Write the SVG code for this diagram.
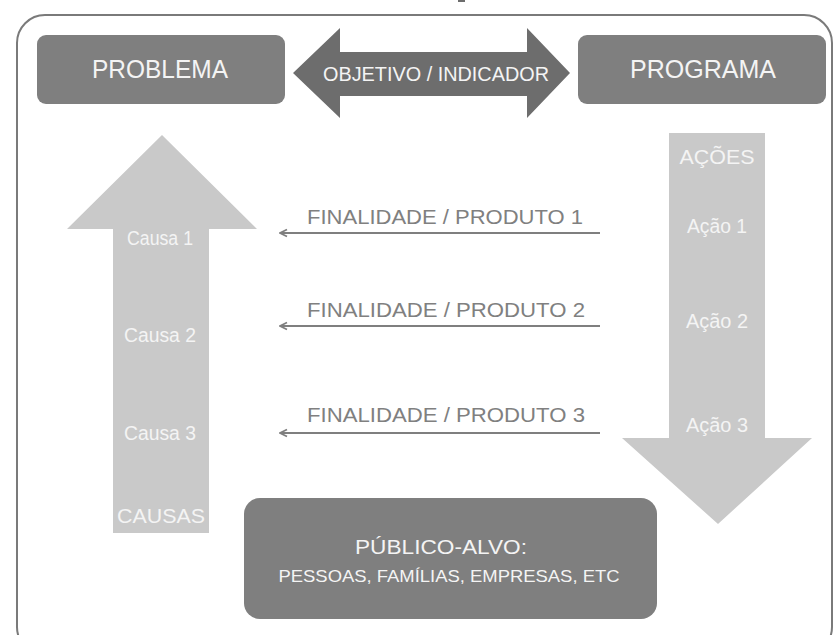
<svg xmlns="http://www.w3.org/2000/svg" width="835" height="635" viewBox="0 0 835 635">
<defs>
<style>
.box{fill:#7f7f7f}
.dark{fill:#6d6d6d}
.light{fill:#c9c9c9}
.wt{fill:#f4f4f4;font-family:"Liberation Sans",Arial,sans-serif;text-anchor:middle}
.lbl{fill:#808080;font-family:"Liberation Sans",Arial,sans-serif;font-size:20.5px;text-anchor:middle}
.conn{stroke:#7f7f7f;stroke-width:1.8;fill:none}
</style>
<marker id="ah" viewBox="0 0 10 10" refX="9" refY="5" markerWidth="10" markerHeight="10" markerUnits="userSpaceOnUse" orient="auto">
<path d="M2,1.5 L9,5 L2,8.5" fill="none" stroke="#7f7f7f" stroke-width="1.8"/>
</marker>
</defs>
<rect x="0" y="0" width="835" height="635" fill="#ffffff"/>
<rect x="458" y="0" width="7" height="2" fill="#6d6d6d"/>
<rect id="frame" x="17" y="15" width="815" height="640" rx="28" fill="none" stroke="#7a7a7a" stroke-width="2"/>

<g id="problema">
<rect class="box" x="37" y="35" width="248" height="69" rx="9"/>
<text class="wt" x="160" y="78" font-size="25" textLength="136" lengthAdjust="spacingAndGlyphs">PROBLEMA</text>
</g>
<g id="programa">
<rect class="box" x="578" y="35" width="248" height="69" rx="9"/>
<text class="wt" x="703" y="78" font-size="25" textLength="146" lengthAdjust="spacingAndGlyphs">PROGRAMA</text>
</g>
<g id="objetivo">
<path class="dark" d="M293,73 L340,28 L340,52 L527,52 L527,28 L570,73 L527,118 L527,96 L340,96 L340,118 Z"/>
<text class="wt" x="436" y="81" font-size="19.5" textLength="226" lengthAdjust="spacingAndGlyphs">OBJETIVO / INDICADOR</text>
</g>
<g id="causas">
<path class="light" d="M162,135 L257,229 L209,229 L209,533 L113,533 L113,229 L67,229 Z"/>
<text class="wt" x="160" y="245" font-size="20" textLength="66" lengthAdjust="spacingAndGlyphs">Causa 1</text>
<text class="wt" x="160" y="342" font-size="20" textLength="72" lengthAdjust="spacingAndGlyphs">Causa 2</text>
<text class="wt" x="160" y="440" font-size="20" textLength="72" lengthAdjust="spacingAndGlyphs">Causa 3</text>
<text class="wt" x="161" y="523" font-size="21" textLength="88" lengthAdjust="spacingAndGlyphs">CAUSAS</text>
</g>
<g id="acoes">
<path class="light" d="M669,133 L765,133 L765,438 L812,438 L718,524 L622,438 L669,438 Z"/>
<text class="wt" x="717" y="164" font-size="21" textLength="75" lengthAdjust="spacingAndGlyphs">AÇÕES</text>
<text class="wt" x="717" y="233" font-size="19.5" textLength="60" lengthAdjust="spacingAndGlyphs">Ação 1</text>
<text class="wt" x="717" y="328" font-size="19.5" textLength="62" lengthAdjust="spacingAndGlyphs">Ação 2</text>
<text class="wt" x="717" y="432" font-size="19.5" textLength="62" lengthAdjust="spacingAndGlyphs">Ação 3</text>
</g>
<g id="publico">
<rect class="box" x="244" y="498" width="413" height="121" rx="16"/>
<text class="wt" x="441" y="554" font-size="20" textLength="172" lengthAdjust="spacingAndGlyphs">PÚBLICO-ALVO:</text>
<text class="wt" x="449" y="582" font-size="16.5" textLength="341" lengthAdjust="spacingAndGlyphs">PESSOAS, FAMÍLIAS, EMPRESAS, ETC</text>
</g>
<g id="connectors">
<line class="conn" x1="600" y1="233" x2="280" y2="233" marker-end="url(#ah)"/>
<line class="conn" x1="600" y1="326" x2="280" y2="326" marker-end="url(#ah)"/>
<line class="conn" x1="600" y1="433" x2="280" y2="433" marker-end="url(#ah)"/>
<text class="lbl" x="445" y="224" textLength="276" lengthAdjust="spacingAndGlyphs">FINALIDADE / PRODUTO 1</text>
<text class="lbl" x="446" y="317" textLength="278" lengthAdjust="spacingAndGlyphs">FINALIDADE / PRODUTO 2</text>
<text class="lbl" x="446" y="422" textLength="278" lengthAdjust="spacingAndGlyphs">FINALIDADE / PRODUTO 3</text>
</g>
</svg>
